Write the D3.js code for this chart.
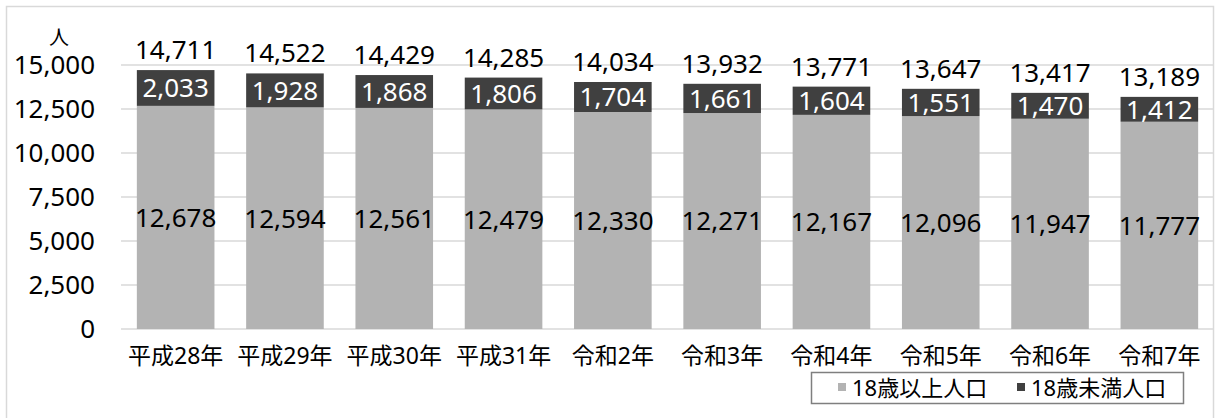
<!DOCTYPE html>
<html>
<head>
<meta charset="utf-8">
<script src="https://cdn.jsdelivr.net/npm/d3@7"></script>
<style>
  body { margin: 0; background: #fff; }
  svg text { font-family: "Noto Sans", "Noto Sans CJK JP", sans-serif; fill: #000; }
</style>
</head>
<body>
<div id="chart"></div>
<script>
// data
const years = ["平成28年", "平成29年", "平成30年", "平成31年", "令和2年", "令和3年", "令和4年", "令和5年", "令和6年", "令和7年"];
const adults = [12678, 12594, 12561, 12479, 12330, 12271, 12167, 12096, 11947, 11777];
const minors = [2033, 1928, 1868, 1806, 1704, 1661, 1604, 1551, 1470, 1412];
const totals = [14711, 14522, 14429, 14285, 14034, 13932, 13771, 13647, 13417, 13189];
const yTicks = [0, 2500, 5000, 7500, 10000, 12500, 15000];
const seriesNames = ["18歳以上人口", "18歳未満人口"];

const W = 1216, H = 418;
const colLight = "#b3b3b3", colDark = "#404040";
const fmt = d3.format(",");
const numSize = "26px";

const svg = d3.select("#chart")
  .append("svg")
  .attr("width", W)
  .attr("height", H);

// outer chart border
svg.append("rect")
  .attr("x", 6.5).attr("y", 6.5)
  .attr("width", 1207).attr("height", H)
  .attr("fill", "none")
  .attr("stroke", "#d9d9d9")
  .attr("stroke-width", 1.5);

let x = d3.scaleBand()
  .domain(years)
  .range([121, 1214])
  .paddingInner(0.29)
  .paddingOuter(0.145);

let y = d3.scaleLinear()
  .domain([0, 15000])
  .range([329, 65]);

// gridlines
svg.append("g")
  .selectAll("line")
  .data(yTicks)
  .join("line")
  .attr("x1", 121).attr("x2", 1213)
  .attr("y1", d => y(d)).attr("y2", d => y(d))
  .attr("stroke", "#d9d9d9")
  .attr("stroke-width", 1.5);

// y axis labels
svg.append("g")
  .selectAll("text")
  .data(yTicks)
  .join("text")
  .attr("x", 95)
  .attr("y", d => y(d))
  .attr("dy", "0.36em")
  .attr("text-anchor", "end")
  .style("font-size", numSize)
  .text(d => fmt(d));

// unit label
svg.append("text")
  .attr("x", 59).attr("y", 38)
  .attr("dy", "0.36em")
  .attr("text-anchor", "middle")
  .style("font-size", "20px")
  .style("font-family", "'Noto Sans CJK JP'")
  .text("人");

// bars
let rows = years.map((yr, i) => ({ yr, a: adults[i], m: minors[i], t: totals[i] }));

svg.append("g")
  .selectAll("rect")
  .data(rows)
  .join("rect")
  .attr("x", d => x(d.yr))
  .attr("y", d => y(d.a))
  .attr("width", x.bandwidth())
  .attr("height", d => y(0) - y(d.a))
  .attr("fill", colLight);

svg.append("g")
  .selectAll("rect")
  .data(rows)
  .join("rect")
  .attr("x", d => x(d.yr))
  .attr("y", d => y(d.a + d.m))
  .attr("width", x.bandwidth())
  .attr("height", d => y(d.a) - y(d.a + d.m))
  .attr("fill", colDark);

// value labels
const cx = d => x(d.yr) + x.bandwidth() / 2;

svg.append("g")
  .selectAll("text")
  .data(rows)
  .join("text")
  .attr("x", cx)
  .attr("y", d => y(d.a / 2))
  .attr("dy", "0.36em")
  .attr("text-anchor", "middle")
  .style("font-size", numSize)
  .text(d => fmt(d.a));

svg.append("g")
  .selectAll("text")
  .data(rows)
  .join("text")
  .attr("x", cx)
  .attr("y", d => y(d.a + d.m / 2))
  .attr("dy", "0.36em")
  .attr("text-anchor", "middle")
  .style("font-size", numSize)
  .style("fill", "#fff")
  .text(d => fmt(d.m));

svg.append("g")
  .selectAll("text")
  .data(rows)
  .join("text")
  .attr("x", cx)
  .attr("y", d => y(d.t) - 11)
  .attr("text-anchor", "middle")
  .style("font-size", numSize)
  .text(d => fmt(d.t));

// x axis labels
svg.append("g")
  .selectAll("text")
  .data(years)
  .join("text")
  .attr("x", d => x(d) + x.bandwidth() / 2)
  .attr("y", 356)
  .attr("dy", "0.36em")
  .attr("text-anchor", "middle")
  .style("font-size", "23px")
  .text(d => d);

// legend
const legend = svg.append("g");
legend.append("rect")
  .attr("x", 811.5).attr("y", 372.5)
  .attr("width", 372).attr("height", 31)
  .attr("fill", "#fff")
  .attr("stroke", "#7f7f7f")
  .attr("stroke-width", 1.5);

const legX = [838, 1017];
const legCol = [colLight, colDark];
seriesNames.forEach((name, i) => {
  legend.append("rect")
    .attr("x", legX[i]).attr("y", 383)
    .attr("width", 8).attr("height", 8)
    .attr("fill", legCol[i]);
  legend.append("text")
    .attr("x", legX[i] + 14).attr("y", 388)
    .attr("dy", "0.36em")
    .style("font-size", "22px")
    .text(name);
});
</script>
</body>
</html>
